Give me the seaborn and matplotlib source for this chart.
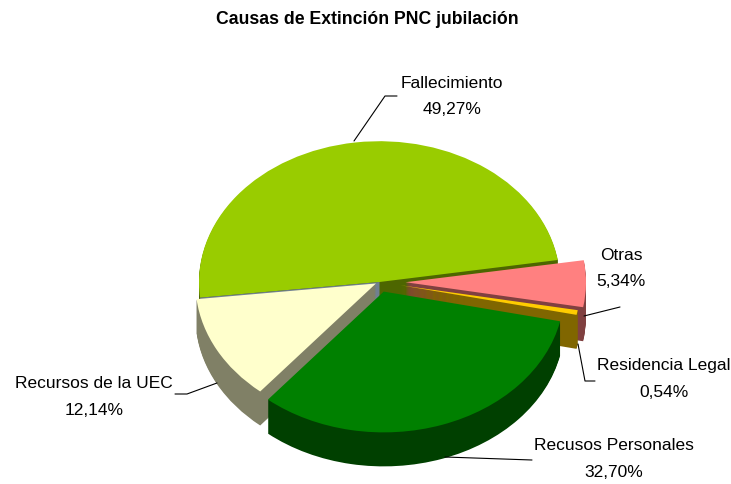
import matplotlib
matplotlib.use("Agg")
import matplotlib.pyplot as plt
import numpy as np
import seaborn as sns

categories = ["Fallecimiento", "Recursos de la UEC", "Recusos Personales", "Residencia Legal", "Otras"]
values = [49.27, 12.14, 32.70, 0.54, 5.34]
hex_colors = ["#99CC00", "#FFFFCC", "#008000", "#FFCC00", "#FF8080"]
explode_px = [0, 4, 13, 21, 26]
draw_order = [0, 4, 3, 1, 2]

# label centres and leader lines, in pixels of the image
label_pos = [(452, 83), (94, 384), (614, 446), (664, 366), (621, 255)]
leaders = [
    [(354, 142), (385, 97), (397, 97)],
    [(217, 384), (187, 395), (175, 395)],
    [(445, 458), (532, 461)],
    [(578, 345), (585, 382), (595, 382)],
    [(584, 317), (620, 308)],
]

W, H = 731, 485
SQUISH = 0.78
CX, CY = 379.5, 283
RADIUS = 180.5
DEPTH = 34
START = 9

sns.set_theme(style="white")
plt.rcParams["font.family"] = ["Liberation Sans", "DejaVu Sans"]

palette = sns.color_palette(hex_colors)
walls = [tuple(c * 0.5 for c in col) for col in palette]


def to_data(px, py):
    return px, (H - py) / SQUISH


fig = plt.figure(figsize=(W / 100, H / 100), dpi=100)
ax = fig.add_axes([0, 0, 1, 1])

# stack of pies shifted downwards gives the side walls, top surface last
for d in range(DEPTH, -1, -1):
    wedges, _ = ax.pie(
        values,
        colors=palette if d == 0 else walls,
        explode=explode_px,
        startangle=START,
        radius=RADIUS,
        center=to_data(CX, CY + d),
        wedgeprops={"linewidth": 0},
    )
    for i, w in enumerate(wedges):
        w.set_zorder(draw_order.index(i) * 100 + (DEPTH - d))

ax.set_aspect("auto")
ax.set_xlim(0, W)
ax.set_ylim(0, H / SQUISH)
ax.axis("off")

# cut face of the big slice, mostly hidden behind the next slices
end_angle = np.deg2rad(START + 360 * values[0] / sum(values))
cx, cy = to_data(CX, CY)
ex, ey = CX + RADIUS * np.cos(end_angle), cy + RADIUS * np.sin(end_angle)
dz = DEPTH / SQUISH
ax.fill([cx, ex, ex, cx], [cy, ey, ey - dz, cy - dz], color="#708090", lw=0, zorder=99.5)

for pts in leaders:
    xs, ys = zip(*[to_data(*p) for p in pts])
    ax.plot(xs, ys, color="black", lw=0.8, zorder=1000)

for name, val, (px, py) in zip(categories, values, label_pos):
    x, y = to_data(px, py)
    ax.text(x, y, name, ha="center", va="center", fontsize=12.5, color="black", zorder=1001)
    x2, y2 = to_data(px, py + 27)
    ax.text(x2, y2, f"{val:.2f}%".replace(".", ","), ha="center", va="center",
            fontsize=12.5, color="black", zorder=1001)

tx, ty = to_data(367, 20)
ax.text(tx, ty, "Causas de Extinción PNC jubilación", ha="center", va="center",
        fontsize=12.7, fontweight="bold", color="black")

fig.savefig("out.png", dpi=100, facecolor="white")
